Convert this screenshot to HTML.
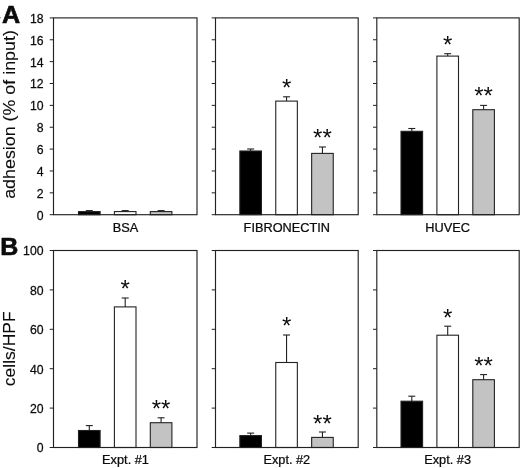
<!DOCTYPE html>
<html><head><meta charset="utf-8"><title>Figure</title>
<style>
html,body{margin:0;padding:0;background:#fff;}
body{width:520px;height:468px;overflow:hidden;}
svg{display:block;filter:grayscale(1);}
text{font-family:"Liberation Sans", sans-serif;fill:#0c0c0c;stroke:#0c0c0c;stroke-width:0.25px;}
.star{stroke-width:0;}
</style></head>
<body>
<svg width="520" height="468" viewBox="0 0 520 468">
<rect x="0" y="0" width="520" height="468" fill="#ffffff"/>
<g>
<line x1="89.30" y1="211.60" x2="89.30" y2="210.60" stroke="#222222" stroke-width="1.1"/>
<line x1="85.80" y1="210.60" x2="92.80" y2="210.60" stroke="#222222" stroke-width="1.1"/>
<rect x="78.50" y="211.60" width="21.60" height="3.10" fill="#000000" stroke="#222222" stroke-width="1.1"/>
<line x1="125.20" y1="211.60" x2="125.20" y2="210.60" stroke="#222222" stroke-width="1.1"/>
<line x1="121.70" y1="210.60" x2="128.70" y2="210.60" stroke="#222222" stroke-width="1.1"/>
<rect x="114.40" y="211.60" width="21.60" height="3.10" fill="#ffffff" stroke="#222222" stroke-width="1.1"/>
<line x1="161.10" y1="211.60" x2="161.10" y2="210.60" stroke="#222222" stroke-width="1.1"/>
<line x1="157.60" y1="210.60" x2="164.60" y2="210.60" stroke="#222222" stroke-width="1.1"/>
<rect x="150.30" y="211.60" width="21.60" height="3.10" fill="#c3c3c3" stroke="#222222" stroke-width="1.1"/>
<rect x="53.50" y="17.90" width="143.50" height="196.80" fill="none" stroke="#222222" stroke-width="1.15"/>
<line x1="49.70" y1="214.70" x2="53.50" y2="214.70" stroke="#222222" stroke-width="1.0"/>
<text transform="translate(43.5,219.60) scale(1.02,1)" font-size="12" text-anchor="end">0</text>
<line x1="49.70" y1="192.83" x2="53.50" y2="192.83" stroke="#222222" stroke-width="1.0"/>
<text transform="translate(43.5,197.73) scale(1.02,1)" font-size="12" text-anchor="end">2</text>
<line x1="49.70" y1="170.97" x2="53.50" y2="170.97" stroke="#222222" stroke-width="1.0"/>
<text transform="translate(43.5,175.87) scale(1.02,1)" font-size="12" text-anchor="end">4</text>
<line x1="49.70" y1="149.10" x2="53.50" y2="149.10" stroke="#222222" stroke-width="1.0"/>
<text transform="translate(43.5,154.00) scale(1.02,1)" font-size="12" text-anchor="end">6</text>
<line x1="49.70" y1="127.23" x2="53.50" y2="127.23" stroke="#222222" stroke-width="1.0"/>
<text transform="translate(43.5,132.13) scale(1.02,1)" font-size="12" text-anchor="end">8</text>
<line x1="49.70" y1="105.37" x2="53.50" y2="105.37" stroke="#222222" stroke-width="1.0"/>
<text transform="translate(43.5,110.27) scale(1.02,1)" font-size="12" text-anchor="end">10</text>
<line x1="49.70" y1="83.50" x2="53.50" y2="83.50" stroke="#222222" stroke-width="1.0"/>
<text transform="translate(43.5,88.40) scale(1.02,1)" font-size="12" text-anchor="end">12</text>
<line x1="49.70" y1="61.63" x2="53.50" y2="61.63" stroke="#222222" stroke-width="1.0"/>
<text transform="translate(43.5,66.53) scale(1.02,1)" font-size="12" text-anchor="end">14</text>
<line x1="49.70" y1="39.77" x2="53.50" y2="39.77" stroke="#222222" stroke-width="1.0"/>
<text transform="translate(43.5,44.67) scale(1.02,1)" font-size="12" text-anchor="end">16</text>
<line x1="49.70" y1="17.90" x2="53.50" y2="17.90" stroke="#222222" stroke-width="1.0"/>
<text transform="translate(43.5,22.80) scale(1.02,1)" font-size="12" text-anchor="end">18</text>
<text transform="translate(125.50,231.5) scale(1.055,1)" font-size="12.1" text-anchor="middle">BSA</text>
<line x1="250.65" y1="151.00" x2="250.65" y2="149.00" stroke="#222222" stroke-width="1.1"/>
<line x1="247.15" y1="149.00" x2="254.15" y2="149.00" stroke="#222222" stroke-width="1.1"/>
<rect x="239.85" y="151.00" width="21.60" height="63.70" fill="#000000" stroke="#222222" stroke-width="1.1"/>
<line x1="286.55" y1="101.10" x2="286.55" y2="96.80" stroke="#222222" stroke-width="1.1"/>
<line x1="283.05" y1="96.80" x2="290.05" y2="96.80" stroke="#222222" stroke-width="1.1"/>
<rect x="275.75" y="101.10" width="21.60" height="113.60" fill="#ffffff" stroke="#222222" stroke-width="1.1"/>
<line x1="322.45" y1="153.40" x2="322.45" y2="147.00" stroke="#222222" stroke-width="1.1"/>
<line x1="318.95" y1="147.00" x2="325.95" y2="147.00" stroke="#222222" stroke-width="1.1"/>
<rect x="311.65" y="153.40" width="21.60" height="61.30" fill="#c3c3c3" stroke="#222222" stroke-width="1.1"/>
<rect x="215.50" y="17.90" width="142.70" height="196.80" fill="none" stroke="#222222" stroke-width="1.15"/>
<line x1="211.70" y1="214.70" x2="215.50" y2="214.70" stroke="#222222" stroke-width="1.0"/>
<line x1="211.70" y1="192.83" x2="215.50" y2="192.83" stroke="#222222" stroke-width="1.0"/>
<line x1="211.70" y1="170.97" x2="215.50" y2="170.97" stroke="#222222" stroke-width="1.0"/>
<line x1="211.70" y1="149.10" x2="215.50" y2="149.10" stroke="#222222" stroke-width="1.0"/>
<line x1="211.70" y1="127.23" x2="215.50" y2="127.23" stroke="#222222" stroke-width="1.0"/>
<line x1="211.70" y1="105.37" x2="215.50" y2="105.37" stroke="#222222" stroke-width="1.0"/>
<line x1="211.70" y1="83.50" x2="215.50" y2="83.50" stroke="#222222" stroke-width="1.0"/>
<line x1="211.70" y1="61.63" x2="215.50" y2="61.63" stroke="#222222" stroke-width="1.0"/>
<line x1="211.70" y1="39.77" x2="215.50" y2="39.77" stroke="#222222" stroke-width="1.0"/>
<line x1="211.70" y1="17.90" x2="215.50" y2="17.90" stroke="#222222" stroke-width="1.0"/>
<text transform="translate(286.80,231.5) scale(1.055,1)" font-size="12.1" text-anchor="middle">FIBRONECTIN</text>
<text x="286.55" y="95.50" font-size="24.0" text-anchor="middle" class="star">*</text>
<text x="322.45" y="146.00" font-size="24.0" text-anchor="middle" class="star">**</text>
<line x1="411.80" y1="131.30" x2="411.80" y2="128.50" stroke="#222222" stroke-width="1.1"/>
<line x1="408.30" y1="128.50" x2="415.30" y2="128.50" stroke="#222222" stroke-width="1.1"/>
<rect x="401.00" y="131.30" width="21.60" height="83.40" fill="#000000" stroke="#222222" stroke-width="1.1"/>
<line x1="447.70" y1="56.10" x2="447.70" y2="53.70" stroke="#222222" stroke-width="1.1"/>
<line x1="444.20" y1="53.70" x2="451.20" y2="53.70" stroke="#222222" stroke-width="1.1"/>
<rect x="436.90" y="56.10" width="21.60" height="158.60" fill="#ffffff" stroke="#222222" stroke-width="1.1"/>
<line x1="483.60" y1="109.70" x2="483.60" y2="105.40" stroke="#222222" stroke-width="1.1"/>
<line x1="480.10" y1="105.40" x2="487.10" y2="105.40" stroke="#222222" stroke-width="1.1"/>
<rect x="472.80" y="109.70" width="21.60" height="105.00" fill="#c3c3c3" stroke="#222222" stroke-width="1.1"/>
<rect x="376.80" y="17.90" width="142.40" height="196.80" fill="none" stroke="#222222" stroke-width="1.15"/>
<line x1="373.00" y1="214.70" x2="376.80" y2="214.70" stroke="#222222" stroke-width="1.0"/>
<line x1="373.00" y1="192.83" x2="376.80" y2="192.83" stroke="#222222" stroke-width="1.0"/>
<line x1="373.00" y1="170.97" x2="376.80" y2="170.97" stroke="#222222" stroke-width="1.0"/>
<line x1="373.00" y1="149.10" x2="376.80" y2="149.10" stroke="#222222" stroke-width="1.0"/>
<line x1="373.00" y1="127.23" x2="376.80" y2="127.23" stroke="#222222" stroke-width="1.0"/>
<line x1="373.00" y1="105.37" x2="376.80" y2="105.37" stroke="#222222" stroke-width="1.0"/>
<line x1="373.00" y1="83.50" x2="376.80" y2="83.50" stroke="#222222" stroke-width="1.0"/>
<line x1="373.00" y1="61.63" x2="376.80" y2="61.63" stroke="#222222" stroke-width="1.0"/>
<line x1="373.00" y1="39.77" x2="376.80" y2="39.77" stroke="#222222" stroke-width="1.0"/>
<line x1="373.00" y1="17.90" x2="376.80" y2="17.90" stroke="#222222" stroke-width="1.0"/>
<text transform="translate(447.60,231.5) scale(1.055,1)" font-size="12.1" text-anchor="middle">HUVEC</text>
<text x="447.70" y="53.00" font-size="24.0" text-anchor="middle" class="star">*</text>
<text x="483.60" y="104.40" font-size="24.0" text-anchor="middle" class="star">**</text>
<line x1="89.30" y1="430.50" x2="89.30" y2="425.60" stroke="#222222" stroke-width="1.1"/>
<line x1="85.80" y1="425.60" x2="92.80" y2="425.60" stroke="#222222" stroke-width="1.1"/>
<rect x="78.50" y="430.50" width="21.60" height="17.00" fill="#000000" stroke="#222222" stroke-width="1.1"/>
<line x1="125.20" y1="306.90" x2="125.20" y2="298.00" stroke="#222222" stroke-width="1.1"/>
<line x1="121.70" y1="298.00" x2="128.70" y2="298.00" stroke="#222222" stroke-width="1.1"/>
<rect x="114.40" y="306.90" width="21.60" height="140.60" fill="#ffffff" stroke="#222222" stroke-width="1.1"/>
<line x1="161.10" y1="422.70" x2="161.10" y2="417.80" stroke="#222222" stroke-width="1.1"/>
<line x1="157.60" y1="417.80" x2="164.60" y2="417.80" stroke="#222222" stroke-width="1.1"/>
<rect x="150.30" y="422.70" width="21.60" height="24.80" fill="#c3c3c3" stroke="#222222" stroke-width="1.1"/>
<rect x="53.50" y="250.50" width="143.50" height="197.00" fill="none" stroke="#222222" stroke-width="1.15"/>
<line x1="49.70" y1="447.50" x2="53.50" y2="447.50" stroke="#222222" stroke-width="1.0"/>
<text transform="translate(43.5,452.40) scale(1.02,1)" font-size="12" text-anchor="end">0</text>
<line x1="49.70" y1="408.10" x2="53.50" y2="408.10" stroke="#222222" stroke-width="1.0"/>
<text transform="translate(43.5,413.00) scale(1.02,1)" font-size="12" text-anchor="end">20</text>
<line x1="49.70" y1="368.70" x2="53.50" y2="368.70" stroke="#222222" stroke-width="1.0"/>
<text transform="translate(43.5,373.60) scale(1.02,1)" font-size="12" text-anchor="end">40</text>
<line x1="49.70" y1="329.30" x2="53.50" y2="329.30" stroke="#222222" stroke-width="1.0"/>
<text transform="translate(43.5,334.20) scale(1.02,1)" font-size="12" text-anchor="end">60</text>
<line x1="49.70" y1="289.90" x2="53.50" y2="289.90" stroke="#222222" stroke-width="1.0"/>
<text transform="translate(43.5,294.80) scale(1.02,1)" font-size="12" text-anchor="end">80</text>
<line x1="49.70" y1="250.50" x2="53.50" y2="250.50" stroke="#222222" stroke-width="1.0"/>
<text transform="translate(43.5,255.40) scale(1.02,1)" font-size="12" text-anchor="end">100</text>
<text transform="translate(125.50,464.3) scale(1.055,1)" font-size="12.1" text-anchor="middle">Expt. #1</text>
<text x="125.20" y="297.00" font-size="24.0" text-anchor="middle" class="star">*</text>
<text x="161.10" y="416.80" font-size="24.0" text-anchor="middle" class="star">**</text>
<line x1="250.65" y1="435.60" x2="250.65" y2="433.10" stroke="#222222" stroke-width="1.1"/>
<line x1="247.15" y1="433.10" x2="254.15" y2="433.10" stroke="#222222" stroke-width="1.1"/>
<rect x="239.85" y="435.60" width="21.60" height="11.90" fill="#000000" stroke="#222222" stroke-width="1.1"/>
<line x1="286.55" y1="362.50" x2="286.55" y2="335.00" stroke="#222222" stroke-width="1.1"/>
<line x1="283.05" y1="335.00" x2="290.05" y2="335.00" stroke="#222222" stroke-width="1.1"/>
<rect x="275.75" y="362.50" width="21.60" height="85.00" fill="#ffffff" stroke="#222222" stroke-width="1.1"/>
<line x1="322.45" y1="437.40" x2="322.45" y2="432.00" stroke="#222222" stroke-width="1.1"/>
<line x1="318.95" y1="432.00" x2="325.95" y2="432.00" stroke="#222222" stroke-width="1.1"/>
<rect x="311.65" y="437.40" width="21.60" height="10.10" fill="#c3c3c3" stroke="#222222" stroke-width="1.1"/>
<rect x="215.50" y="250.50" width="142.70" height="197.00" fill="none" stroke="#222222" stroke-width="1.15"/>
<line x1="211.70" y1="447.50" x2="215.50" y2="447.50" stroke="#222222" stroke-width="1.0"/>
<line x1="211.70" y1="408.10" x2="215.50" y2="408.10" stroke="#222222" stroke-width="1.0"/>
<line x1="211.70" y1="368.70" x2="215.50" y2="368.70" stroke="#222222" stroke-width="1.0"/>
<line x1="211.70" y1="329.30" x2="215.50" y2="329.30" stroke="#222222" stroke-width="1.0"/>
<line x1="211.70" y1="289.90" x2="215.50" y2="289.90" stroke="#222222" stroke-width="1.0"/>
<line x1="211.70" y1="250.50" x2="215.50" y2="250.50" stroke="#222222" stroke-width="1.0"/>
<text transform="translate(286.80,464.3) scale(1.055,1)" font-size="12.1" text-anchor="middle">Expt. #2</text>
<text x="286.55" y="334.00" font-size="24.0" text-anchor="middle" class="star">*</text>
<text x="322.45" y="431.60" font-size="24.0" text-anchor="middle" class="star">**</text>
<line x1="411.80" y1="401.20" x2="411.80" y2="396.20" stroke="#222222" stroke-width="1.1"/>
<line x1="408.30" y1="396.20" x2="415.30" y2="396.20" stroke="#222222" stroke-width="1.1"/>
<rect x="401.00" y="401.20" width="21.60" height="46.30" fill="#000000" stroke="#222222" stroke-width="1.1"/>
<line x1="447.70" y1="335.20" x2="447.70" y2="326.20" stroke="#222222" stroke-width="1.1"/>
<line x1="444.20" y1="326.20" x2="451.20" y2="326.20" stroke="#222222" stroke-width="1.1"/>
<rect x="436.90" y="335.20" width="21.60" height="112.30" fill="#ffffff" stroke="#222222" stroke-width="1.1"/>
<line x1="483.60" y1="379.70" x2="483.60" y2="374.60" stroke="#222222" stroke-width="1.1"/>
<line x1="480.10" y1="374.60" x2="487.10" y2="374.60" stroke="#222222" stroke-width="1.1"/>
<rect x="472.80" y="379.70" width="21.60" height="67.80" fill="#c3c3c3" stroke="#222222" stroke-width="1.1"/>
<rect x="376.80" y="250.50" width="142.40" height="197.00" fill="none" stroke="#222222" stroke-width="1.15"/>
<line x1="373.00" y1="447.50" x2="376.80" y2="447.50" stroke="#222222" stroke-width="1.0"/>
<line x1="373.00" y1="408.10" x2="376.80" y2="408.10" stroke="#222222" stroke-width="1.0"/>
<line x1="373.00" y1="368.70" x2="376.80" y2="368.70" stroke="#222222" stroke-width="1.0"/>
<line x1="373.00" y1="329.30" x2="376.80" y2="329.30" stroke="#222222" stroke-width="1.0"/>
<line x1="373.00" y1="289.90" x2="376.80" y2="289.90" stroke="#222222" stroke-width="1.0"/>
<line x1="373.00" y1="250.50" x2="376.80" y2="250.50" stroke="#222222" stroke-width="1.0"/>
<text transform="translate(447.60,464.3) scale(1.055,1)" font-size="12.1" text-anchor="middle">Expt. #3</text>
<text x="447.70" y="326.20" font-size="24.0" text-anchor="middle" class="star">*</text>
<text x="483.60" y="373.90" font-size="24.0" text-anchor="middle" class="star">**</text>
<rect x="0" y="17.1" width="0.9" height="1.1" fill="#8a8a8a"/>
<text transform="translate(1.9,22.7) scale(1.04,1)" font-size="24.2" font-weight="bold" style="stroke-width:0.7px;stroke-linejoin:round">A</text>
<text transform="translate(0.3,254.9) scale(1.02,1)" font-size="24.5" font-weight="bold" style="stroke-width:0.7px;stroke-linejoin:round">B</text>
<text transform="translate(14.7,198.8) rotate(-90) scale(1.0625,1)" font-size="16.8" style="stroke-width:0.1px">adhesion (% of input)</text>
<text transform="translate(14.8,386.2) rotate(-90) scale(1.042,1)" font-size="16.8" style="stroke-width:0.1px">cells/HPF</text>
</g>
</svg>
</body></html>
